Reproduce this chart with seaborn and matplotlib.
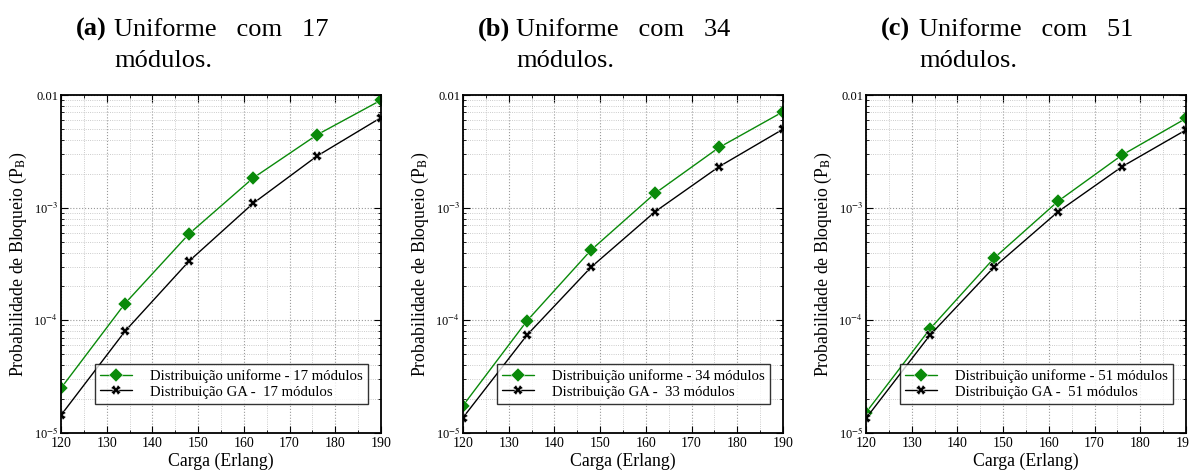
import numpy as np
import pandas as pd
import matplotlib
matplotlib.use("Agg")
import matplotlib.pyplot as plt
import matplotlib.ticker as mticker
import seaborn as sns

# Data
carga = [120, 134, 148, 162, 176, 190]

uniforme_17 = [2.5e-5, 1.41e-4, 5.85e-4, 1.83e-3, 4.43e-3, 9.0e-3]
ga_17 = [1.44e-5, 8.0e-5, 3.35e-4, 1.09e-3, 2.87e-3, 6.3e-3]

uniforme_34 = [1.75e-5, 9.9e-5, 4.2e-4, 1.34e-3, 3.42e-3, 7.1e-3]
ga_33 = [1.37e-5, 7.4e-5, 2.96e-4, 9.2e-4, 2.31e-3, 4.97e-3]

uniforme_51 = [1.52e-5, 8.4e-5, 3.56e-4, 1.14e-3, 2.93e-3, 6.2e-3]
ga_51 = [1.35e-5, 7.4e-5, 2.96e-4, 9.2e-4, 2.31e-3, 4.9e-3]

panel_tags = ["(a)", "(b)", "(c)"]
title_line1 = ["Uniforme   com   17", "Uniforme   com   34", "Uniforme   com   51"]
title_line2 = "módulos."
labels_uniforme = ["Distribuição uniforme - 17 módulos",
                   "Distribuição uniforme - 34 módulos",
                   "Distribuição uniforme - 51 módulos"]
labels_ga = ["Distribuição GA -  17 módulos",
             "Distribuição GA -  33 módulos",
             "Distribuição GA -  51 módulos"]
series_uniforme = [uniforme_17, uniforme_34, uniforme_51]
series_ga = [ga_17, ga_33, ga_51]

y_ticks = [1e-5, 1e-4, 1e-3, 1e-2]
y_ticklabels = [r"10$^{-5}$", r"10$^{-4}$", r"10$^{-3}$", "0.01"]
x_ticks = [120, 130, 140, 150, 160, 170, 180, 190]

sns.set_theme(style="ticks")
plt.rcParams["font.family"] = ["Liberation Serif", "DejaVu Serif"]
plt.rcParams["mathtext.fontset"] = "stix"
plt.rcParams["text.color"] = "black"
plt.rcParams["axes.labelcolor"] = "black"

W, H = 1189, 472
fig = plt.figure(figsize=(W / 100, H / 100), dpi=100)

ax_lefts = [61, 463, 866]
ax_w, ax_top, ax_bot = 320, 95, 433

green = "#0a8a0a"

for i in range(3):
    left = ax_lefts[i]
    ax = fig.add_axes([left / W, 1 - ax_bot / H, ax_w / W, (ax_bot - ax_top) / H])

    df = pd.DataFrame({
        "carga": carga * 2,
        "pb": series_uniforme[i] + series_ga[i],
        "serie": [labels_uniforme[i]] * 6 + [labels_ga[i]] * 6,
    })
    sns.lineplot(data=df, x="carga", y="pb", hue="serie", style="serie",
                 palette=[green, "black"], markers=["D", "X"], dashes=False,
                 markersize=7, linewidth=1.0, markeredgewidth=0.3, ax=ax)

    ax.set_yscale("log")
    ax.set_xlim(120, 190)
    ax.set_ylim(1e-5, 1e-2)
    ax.set_xticks(x_ticks)
    ax.xaxis.set_minor_locator(mticker.MultipleLocator(5))
    ax.set_yticks(y_ticks)
    ax.set_yticklabels(y_ticklabels)
    ax.yaxis.set_minor_locator(mticker.LogLocator(base=10, subs=np.arange(2, 10)))
    ax.yaxis.set_minor_formatter(mticker.NullFormatter())

    ax.grid(which="major", color="#999999", linestyle=":", linewidth=0.8)
    ax.grid(which="minor", color="#bbbbbb", linestyle=":", linewidth=0.6)
    ax.tick_params(which="both", direction="in", top=True, right=True, colors="black")
    ax.tick_params(which="major", length=5, width=0.8)
    ax.tick_params(which="minor", length=2.5, width=0.6)
    ax.tick_params(axis="x", labelsize=10, pad=3)
    ax.tick_params(axis="y", labelsize=9, pad=2)
    for sp in ax.spines.values():
        sp.set_linewidth(1.3)
        sp.set_color("black")
        sp.set_visible(True)

    ax.set_xlabel("Carga (Erlang)", fontsize=12.8, labelpad=2)
    ax.set_ylabel(r"Probabilidade de Bloqueio (P$_\mathrm{B}$)", fontsize=12.8, labelpad=3)

    leg = ax.legend(loc="lower right", bbox_to_anchor=(0.982, 0.065), fontsize=10.6,
                    frameon=True, fancybox=False, edgecolor="black",
                    handlelength=2.2, handletextpad=1.2, borderpad=0.35,
                    labelspacing=0.15)
    leg.get_frame().set_linewidth(1.0)

    fig.text((left + 15) / W, 1 - 36 / H, panel_tags[i], fontsize=19,
             fontweight="bold", va="baseline", ha="left")
    fig.text((left + 53) / W, 1 - 36 / H, title_line1[i], fontsize=19,
             va="baseline", ha="left")
    fig.text((left + 53) / W, 1 - 67 / H, title_line2, fontsize=19,
             va="baseline", ha="left")

fig.savefig("out.png", dpi=100)
